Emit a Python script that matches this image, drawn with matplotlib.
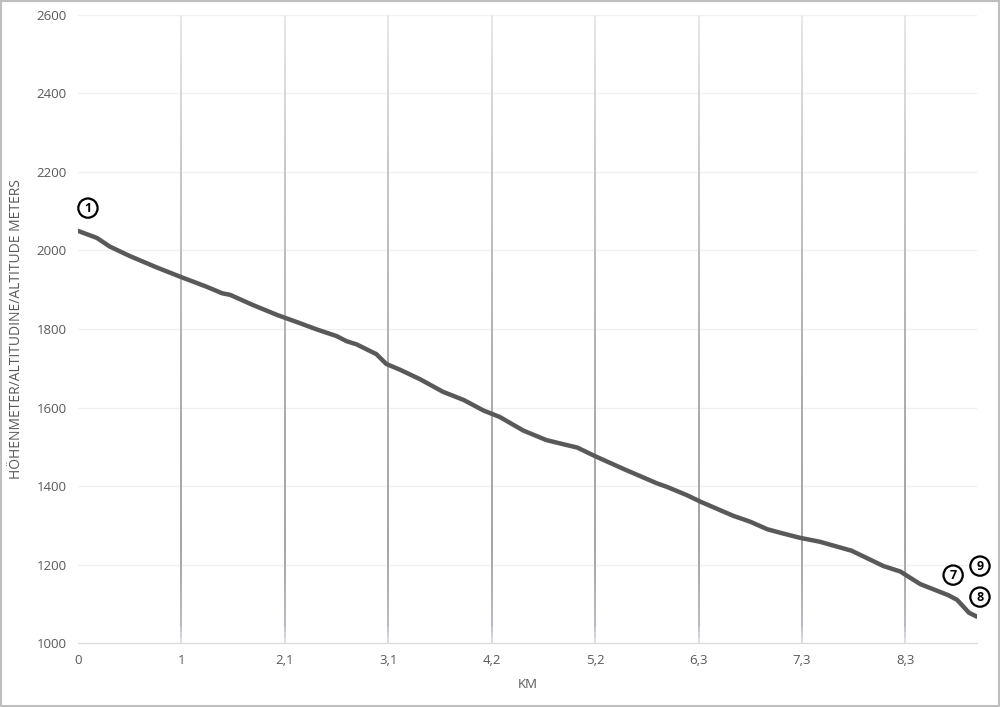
import numpy as np
import matplotlib.pyplot as plt
from matplotlib.collections import LineCollection
from matplotlib.patches import Rectangle

plt.rcParams['font.family'] = ['Open Sans', 'DejaVu Sans']

# Höhenprofil (km / m)
dist_km = [0.0, 0.19, 0.32, 0.52, 0.79, 1.04, 1.29, 1.45, 1.53, 1.76, 2.0, 2.23,
           2.4, 2.6, 2.7, 2.8, 3.0, 3.1, 3.24, 3.44, 3.67, 3.88, 4.08, 4.24,
           4.48, 4.71, 4.92, 5.02, 5.2, 5.49, 5.82, 5.92, 6.12, 6.26, 6.59, 6.76,
           6.93, 7.06, 7.26, 7.46, 7.78, 8.1, 8.27, 8.47, 8.64, 8.75, 8.84, 8.96, 9.04]
altitude = [2050, 2032, 2010, 1986, 1957, 1932, 1908, 1891, 1887, 1861, 1836, 1815,
            1799, 1782, 1769, 1761, 1736, 1711, 1696, 1672, 1640, 1619, 1592, 1576,
            1541, 1517, 1504, 1498, 1476, 1443, 1407, 1398, 1377, 1360, 1324, 1309,
            1290, 1281, 1268, 1258, 1235, 1196, 1182, 1150, 1133, 1122, 1110, 1077, 1067]

tick_km = [0, 1.04, 2.08, 3.12, 4.16, 5.2, 6.24, 7.28, 8.32]
tick_labels = ["0", "1", "2,1", "3,1", "4,2", "5,2", "6,3", "7,3", "8,3"]

# Wegpunkte
wp_labels = ["1", "7", "9", "8"]
wp_km = [0.1, 8.80, 9.07, 9.07]
wp_alt = [2108, 1173, 1196, 1117]

fig = plt.figure(figsize=(10, 7.07), dpi=100)
ax = fig.add_axes([0.078, 0.0905, 0.899, 0.8883])

ymin, ymax = 1000, 2600
ax.set_xlim(0, 9.04)
ax.set_ylim(ymin, ymax)

# horizontale Gitterlinien
for y in range(1200, 2601, 200):
    ax.axhline(y, color='#f0f0f0', lw=1, zorder=0)

# vertikale Linien mit Verlauf
ys = np.linspace(ymin, ymax, 120)
stops_t = [0.0, 0.03, 0.15, 0.45, 0.75, 1.0]
stops_c = [np.array([0.87, 0.90, 0.94]), np.array([0.72, 0.73, 0.76]),
           np.array([0.64, 0.64, 0.64]), np.array([0.68, 0.68, 0.68]),
           np.array([0.78, 0.78, 0.78]), np.array([0.91, 0.91, 0.91])]
for xk in tick_km[1:]:
    segs = []
    cols = []
    for a, b in zip(ys[:-1], ys[1:]):
        segs.append([(xk, a), (xk, b)])
        t = ((a + b) / 2 - ymin) / (ymax - ymin)
        c = np.array([np.interp(t, stops_t, [s[i] for s in stops_c]) for i in range(3)])
        cols.append(c)
    ax.add_collection(LineCollection(segs, colors=cols, linewidths=1.4, zorder=1,
                                     capstyle='butt'))

ax.plot(dist_km, altitude, color='#595959', lw=3.2, solid_capstyle='round', zorder=3)

for lab, xk, yk in zip(wp_labels, wp_km, wp_alt):
    ax.text(xk, yk, lab, ha='center', va='center', fontsize=9, fontweight='bold',
            color='black', zorder=4, clip_on=False,
            bbox=dict(boxstyle='circle,pad=0.25', fc='white', ec='black', lw=1.6))

ax.set_xticks(tick_km)
ax.set_xticklabels(tick_labels)
ax.set_yticks(range(1000, 2601, 200))
ax.tick_params(axis='both', length=0, labelsize=9.5, colors='#595959', pad=8)
for s in ['top', 'right', 'left']:
    ax.spines[s].set_visible(False)
ax.spines['bottom'].set_color('#d9d9d9')

ax.set_xlabel("KM", fontsize=9.5, color='#595959', labelpad=8)
ax.set_ylabel("HÖHENMETER/ALTITUDINE/ALTITUDE METERS", fontsize=10, color='#595959',
              labelpad=9)

fig.patches.append(Rectangle((0.001, 0.001), 0.998, 0.997, transform=fig.transFigure,
                             fill=False, ec='#bfbfbf', lw=1.5))

fig.savefig("out.png", dpi=100)
